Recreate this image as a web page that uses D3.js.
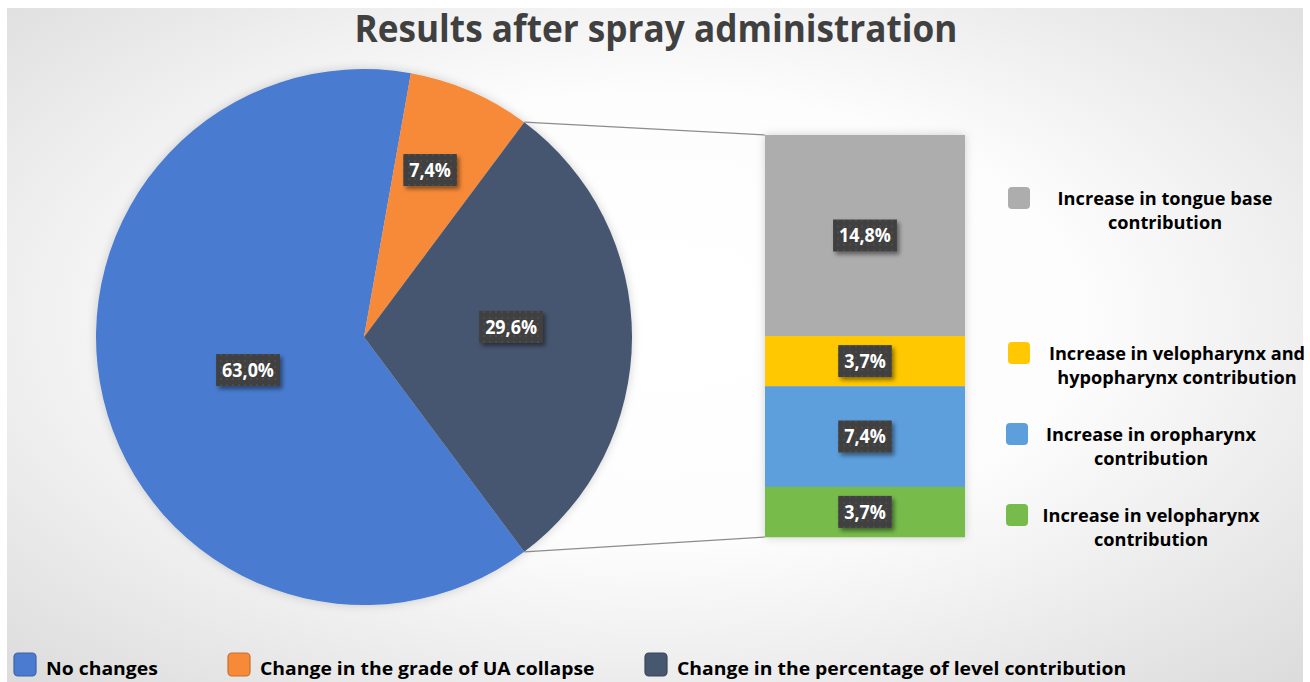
<!DOCTYPE html>
<html>
<head>
<meta charset="utf-8">
<script src="https://cdn.jsdelivr.net/npm/d3@7"></script>
<style>
  html, body { margin: 0; padding: 0; background: #ffffff; }
  svg { display: block; }
  text { font-family: "Open Sans", "DejaVu Sans", sans-serif; font-weight: 700; }
</style>
</head>
<body>
<svg id="chart" width="1310" height="682"></svg>
<script>
// ---------- data ----------
const titleText = "Results after spray administration";
const pieCategories = ["No changes", "Change in the grade of UA collapse", "Change in the percentage of level contribution"];
const pieValues = [63.0, 7.4, 29.6];
const pieLabels = ["63,0%", "7,4%", "29,6%"];
const barCategories = ["Increase in tongue base contribution", "Increase in velopharynx and hypopharynx contribution", "Increase in oropharynx contribution", "Increase in velopharynx contribution"];
const barLegendLines = [["Increase in tongue base", "contribution"], ["Increase in velopharynx and", "hypopharynx contribution"], ["Increase in oropharynx", "contribution"], ["Increase in velopharynx", "contribution"]];
const barValues = [14.8, 3.7, 7.4, 3.7];
const barLabels = ["14,8%", "3,7%", "7,4%", "3,7%"];

// ---------- styles / layout ----------
const pieColors = ["#4a7bd0", "#f78a38", "#46576f"];
const barColors = ["#adadad", "#ffc800", "#5d9fdc", "#77bb4b"];
const pieCenter = [364, 337], R = 268;
const labelRadiusFrac = [0.45, 0.67, 0.55];
const labelAngleShiftDeg = [-2.6, -1.8, -3.9];
const bar = { x0: 765, x1: 965, y0: 135, y1: 537 };

const svg = d3.select("#chart");
const defs = svg.append("defs");

const grad = defs.append("radialGradient").attr("id", "bg").attr("cx", "50%").attr("cy", "45%").attr("r", "72%");
grad.append("stop").attr("offset", "0%").attr("stop-color", "#ffffff");
grad.append("stop").attr("offset", "45%").attr("stop-color", "#fdfdfd");
grad.append("stop").attr("offset", "100%").attr("stop-color", "#dcdcdc");

const sh = defs.append("filter").attr("id", "shadow").attr("x", "-20%").attr("y", "-20%").attr("width", "150%").attr("height", "160%");
sh.append("feDropShadow").attr("dx", 2.5).attr("dy", 3).attr("stdDeviation", 2).attr("flood-color", "#000").attr("flood-opacity", 0.45);
const soft = defs.append("filter").attr("id", "soft").attr("x", "-10%").attr("y", "-10%").attr("width", "120%").attr("height", "120%");
soft.append("feDropShadow").attr("dx", 0).attr("dy", 0).attr("stdDeviation", 5).attr("flood-color", "#000").attr("flood-opacity", 0.18);

const pat = defs.append("pattern").attr("id", "dots").attr("width", 6).attr("height", 6).attr("patternUnits", "userSpaceOnUse");
pat.append("rect").attr("width", 6).attr("height", 6).attr("fill", "#3f3f3f");
pat.append("circle").attr("cx", 3).attr("cy", 3).attr("r", 0.8).attr("fill", "#5c5c5c");

svg.append("rect").attr("x", 7).attr("y", 8).attr("width", 1296).attr("height", 690).attr("fill", "url(#bg)");

// title
const title = svg.append("text").attr("x", 656).attr("y", 42).attr("text-anchor", "middle")
  .attr("font-size", 38).attr("fill", "#404040").text(titleText);
const titleTarget = 603;
const condense = titleTarget / title.node().getComputedTextLength();
function squeeze(sel, f) {
  sel.each(function () {
    const w = this.getComputedTextLength();
    d3.select(this).attr("textLength", w * f).attr("lengthAdjust", "spacingAndGlyphs");
  });
}
squeeze(title, condense);

// ---------- pie ----------
const total = d3.sum(pieValues);
const splitFrac = pieValues[2] / total;
const start = Math.PI / 2 + splitFrac * Math.PI;
const pie = d3.pie().sort(null).startAngle(start).endAngle(start + 2 * Math.PI);
const arcs = pie(pieValues);
const arc = d3.arc().innerRadius(0).outerRadius(R);
const pg = svg.append("g").attr("transform", `translate(${pieCenter})`);
pg.append("g").attr("filter", "url(#soft)").selectAll("path").data(arcs).join("path")
  .attr("d", arc).attr("fill", (d, i) => pieColors[i]);

// connector lines
const split = arcs[2];
const pt = a => [pieCenter[0] + R * Math.sin(a), pieCenter[1] - R * Math.cos(a)];
const yScale = d3.scaleLinear().domain([0, d3.sum(barValues)]).range([bar.y0, bar.y1]);
const p1 = pt(split.startAngle), p2 = pt(split.endAngle);
svg.append("line").attr("x1", p1[0]).attr("y1", p1[1]).attr("x2", bar.x0).attr("y2", yScale(0))
  .attr("stroke", "#8c8c8c").attr("stroke-width", 1.2);
svg.append("line").attr("x1", p2[0]).attr("y1", p2[1]).attr("x2", bar.x0).attr("y2", yScale(d3.sum(barValues)))
  .attr("stroke", "#8c8c8c").attr("stroke-width", 1.2);

// ---------- bar ----------
const cum = barValues.map((v, i) => d3.sum(barValues.slice(0, i)));
const bg = svg.append("g").attr("filter", "url(#soft)");
bg.selectAll("rect").data(barValues).join("rect")
  .attr("x", bar.x0).attr("width", bar.x1 - bar.x0)
  .attr("y", (d, i) => yScale(cum[i])).attr("height", d => yScale(d) - yScale(0) + 0.3)
  .attr("fill", (d, i) => barColors[i]);

// ---------- labels ----------
function label(x, y, txt) {
  const g = svg.append("g").attr("transform", `translate(${x},${y})`);
  const box = g.append("rect").attr("fill", "url(#dots)").attr("filter", "url(#shadow)");
  const t = g.append("text").attr("text-anchor", "middle").attr("dy", "0.36em")
    .attr("font-size", 19).attr("fill", "#ffffff").text(txt);
  const w = t.node().getComputedTextLength() * 0.94;
  t.attr("textLength", w).attr("lengthAdjust", "spacingAndGlyphs");
  box.attr("x", -w / 2 - 6).attr("y", -16).attr("width", w + 12).attr("height", 32);
}
arcs.forEach((a, i) => {
  const r = R * labelRadiusFrac[i];
  const m = (a.startAngle + a.endAngle) / 2 + labelAngleShiftDeg[i] * Math.PI / 180;
  label(pieCenter[0] + r * Math.sin(m), pieCenter[1] - r * Math.cos(m), pieLabels[i]);
});
barValues.forEach((v, i) => {
  label((bar.x0 + bar.x1) / 2, (yScale(cum[i]) + yScale(cum[i] + v)) / 2, barLabels[i]);
});

// ---------- right legend ----------
const rightLegendY = [198, 353, 434, 515];
const rightSwatchX = [1008, 1008, 1006, 1006];
const rightTextCx = [1165, 1177, 1151, 1151];
barLegendLines.forEach((lines, i) => {
  const y = rightLegendY[i];
  svg.append("rect").attr("x", rightSwatchX[i]).attr("y", y - 11).attr("width", 22).attr("height", 22)
    .attr("rx", 4).attr("fill", barColors[i]);
  lines.forEach((l, j) => {
    const t = svg.append("text").attr("x", rightTextCx[i]).attr("y", y + 6.5 + j * 24.5)
      .attr("font-size", 18.5).attr("fill", "#000000").attr("text-anchor", "middle").text(l);
    squeeze(t, condense * 1.06);
  });
});

// ---------- bottom legend ----------
const bottomX = [14, 228, 645];
pieCategories.forEach((c, i) => {
  svg.append("rect").attr("x", bottomX[i]).attr("y", 653).attr("width", 22).attr("height", 23).attr("rx", 4)
    .attr("fill", pieColors[i]).attr("stroke", d3.color(pieColors[i]).darker(0.6)).attr("stroke-width", 1.2);
  const t = svg.append("text").attr("x", bottomX[i] + 32).attr("y", 675).attr("font-size", 18.5)
    .attr("fill", "#000000").text(c);
  squeeze(t, condense * 1.13);
});
</script>
</body>
</html>
